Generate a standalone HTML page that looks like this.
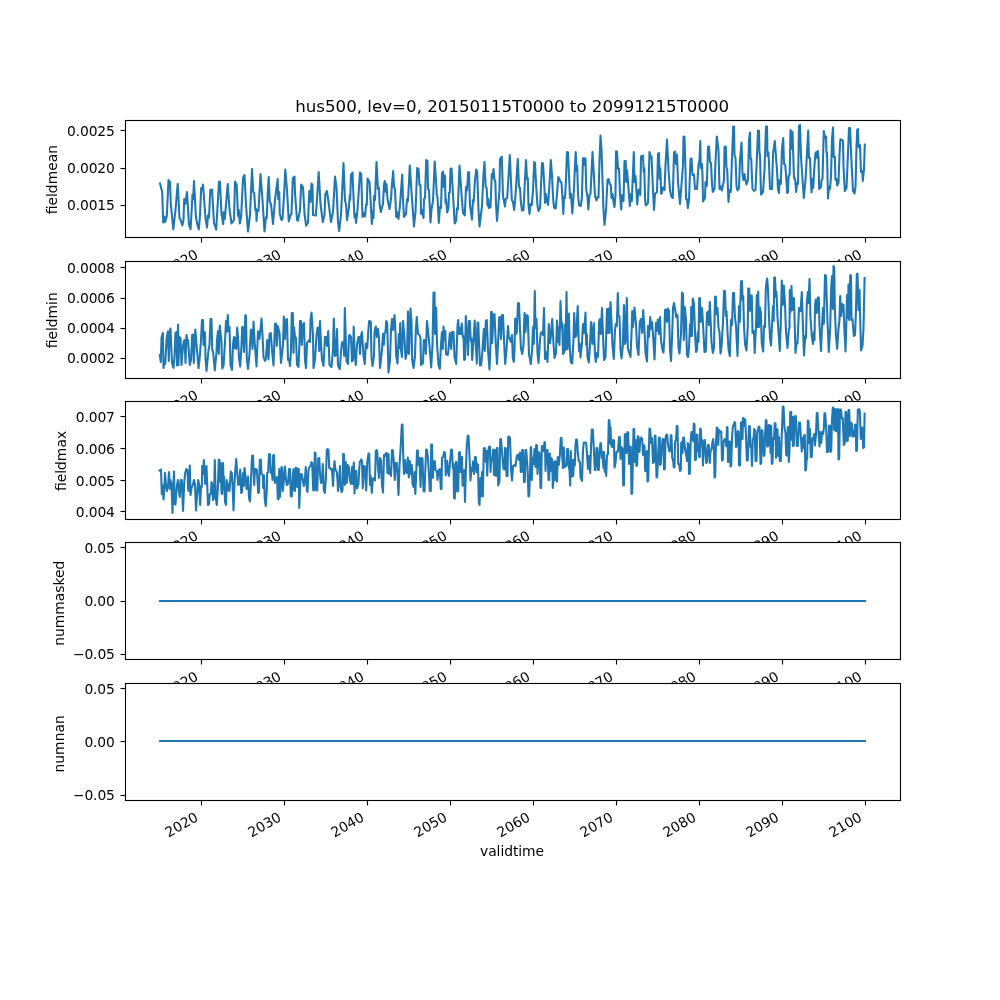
<!DOCTYPE html>
<html lang="en"><head><meta charset="utf-8"><title>hus500, lev=0</title>
<style>
html,body{margin:0;padding:0;background:#fff;width:1000px;height:1000px;overflow:hidden}
svg{display:block}
text{font-family:"DejaVu Sans","Liberation Sans",sans-serif;fill:#000}
.t{font-size:13.889px}
.tt{font-size:16.667px}
.yl{letter-spacing:-0.12px}
.xl{letter-spacing:-0.08px}
</style></head><body>
<svg width="1000" height="1000" viewBox="0 0 1000 1000">
<rect x="0" y="0" width="1000" height="1000" fill="#ffffff"/>
<defs>
<clipPath id="c0"><rect x="125.0" y="120" width="775.0" height="117.24"/></clipPath>
<clipPath id="c1"><rect x="125.0" y="260.69" width="775.0" height="117.24"/></clipPath>
<clipPath id="c2"><rect x="125.0" y="401.38" width="775.0" height="117.24"/></clipPath>
<clipPath id="c3"><rect x="125.0" y="542.07" width="775.0" height="117.24"/></clipPath>
<clipPath id="c4"><rect x="125.0" y="682.76" width="775.0" height="117.24"/></clipPath>
</defs>
<g class="ax" id="ax1">
<rect x="125.0" y="120" width="775.0" height="117.24" fill="#ffffff"/>
<line x1="201.5" y1="237.5" x2="201.5" y2="242.5" stroke="#000" stroke-width="1.111"/>
<line x1="284.5" y1="237.5" x2="284.5" y2="242.5" stroke="#000" stroke-width="1.111"/>
<line x1="367.5" y1="237.5" x2="367.5" y2="242.5" stroke="#000" stroke-width="1.111"/>
<line x1="450.5" y1="237.5" x2="450.5" y2="242.5" stroke="#000" stroke-width="1.111"/>
<line x1="533.5" y1="237.5" x2="533.5" y2="242.5" stroke="#000" stroke-width="1.111"/>
<line x1="616.5" y1="237.5" x2="616.5" y2="242.5" stroke="#000" stroke-width="1.111"/>
<line x1="699.5" y1="237.5" x2="699.5" y2="242.5" stroke="#000" stroke-width="1.111"/>
<line x1="782.5" y1="237.5" x2="782.5" y2="242.5" stroke="#000" stroke-width="1.111"/>
<line x1="865.5" y1="237.5" x2="865.5" y2="242.5" stroke="#000" stroke-width="1.111"/>
<line x1="120.5" y1="130.5" x2="125.5" y2="130.5" stroke="#000" stroke-width="1.111"/>
<line x1="120.5" y1="168.5" x2="125.5" y2="168.5" stroke="#000" stroke-width="1.111"/>
<line x1="120.5" y1="205.5" x2="125.5" y2="205.5" stroke="#000" stroke-width="1.111"/>
<path clip-path="url(#c0)" d="M160 183.5 L162.2 192 L163.2 222.5 L164.3 216.5 L165.2 222 L166.8 216 L168.5 180 L170 182 L170.8 204 L173.3 229.3 L175.5 210 L177.7 183.7 L179.5 218 L181 221 L182.3 225.5 L183.5 220 L184.2 199 L185.3 204 L187 192 L189 225 L190.6 229.3 L192.5 194.5 L193.2 199 L194 181 L196 218 L197.5 225 L198.8 229.5 L200 215 L201.2 188 L202 190 L203 184.5 L205.5 218 L207 227.5 L208 215.5 L209 217.5 L210.3 190 L212 189.5 L214 223 L216.2 229.7 L219 181.5 L220 182 L220.7 198 L221.5 214 L223.2 224 L223.7 212 L224.8 219 L227.7 184 L229.5 209 L231.5 223.5 L234 220 L235 181.5 L236.7 185 L238 216 L238.8 210 L239.8 223.5 L241.2 216 L243 178 L244.5 175 L246 205 L248 231.5 L250 215 L252 169 L253.2 192 L254.2 193 L255.3 210 L256.2 209 L256.5 221 L257.2 210 L258.5 211 L260.5 174 L262.5 200 L264.5 231.5 L266 217 L266.8 218 L267.5 198 L268.7 177 L269.8 202 L271 204 L273 224 L275 200 L276.5 188 L277.7 179 L278.2 199 L279.2 192 L279.8 214 L281.5 220 L282.5 219 L284 196 L285.3 169.5 L287 190 L288.8 221.5 L290.5 215 L291.5 214 L292.8 178.5 L294.5 176.5 L295 193 L297 220 L298 220.8 L300 210 L301.2 184.5 L303 187 L304.5 214 L306.2 225.8 L308 222.5 L309.3 191 L310.5 202 L311.5 183.5 L312.5 185 L313 215 L315.8 215.5 L316.8 202 L318.7 172 L320.5 204 L322.8 222 L324.5 215 L325.3 194.5 L326.8 191 L328 198 L331 222 L333 212 L335 176.5 L336.5 188 L338 222 L339.2 231 L341 215 L343.5 163 L345 201 L346 204 L347 220 L349 207 L349.8 195 L350.2 200 L351 175 L352.5 172.5 L353.5 197 L354.5 217.5 L355.5 214 L356 223 L357.5 210 L360 172.5 L361.2 174 L362.5 217 L364 213 L365 216.5 L366.2 204 L366.8 205 L367.5 178.5 L369.5 182 L370.5 199 L371.8 224 L372.8 211 L373.5 218 L374 196 L375 200 L376.5 162 L378 189 L379 188 L379.5 203 L380.8 212 L383 204 L384 184 L384.8 181 L385.8 192 L386.5 184 L387.5 199 L389.5 209 L391 199 L392 184 L393.2 171 L394 187 L395 189 L396.2 217 L397 212 L398.5 219 L400 205 L402.2 174.5 L403 200 L404 217 L406 214 L407 199 L408 201 L409.8 165.5 L412 199 L414 226.5 L415.5 212 L417.2 168 L418.5 169 L419.5 185 L420.5 185 L421 214 L422 210 L423.5 218 L424 199 L425 198 L426.2 160 L427.5 161 L428 189 L429 190 L430.5 222.5 L431.5 209 L433 201 L434.7 161.5 L436 180 L436.8 195 L437.5 197 L438.8 223 L440 207 L441 208 L442 173 L443 171.5 L443.5 187 L444 175 L445 176 L445.5 203 L446 199 L447.2 212.5 L448.5 208 L449 193 L449.8 192.5 L450.5 169 L451.5 168.5 L453.5 203 L454.7 223.5 L456.2 220.5 L457 208 L457.8 209.5 L459.5 165.5 L461.5 194 L463 213 L464.8 215.5 L466 187 L467 190.5 L468.2 172 L469 172.5 L470 205 L472 219.5 L473 200 L473.7 202 L475 180 L476.2 169.5 L477.2 172 L478.5 210 L479.5 226.5 L482 206 L483.5 174 L484.5 162 L485.7 187 L486.7 188 L487.5 205.5 L488.2 199 L488.8 208 L490.5 207 L491.8 174 L492.5 178 L493.5 169 L494.5 180 L495.3 181 L496 204 L497 221 L499.5 190 L500 159 L501.8 156.5 L503 196 L505 206.5 L505.8 199 L507.2 198 L509.8 155 L511.8 200 L513 202 L514.2 210 L515.5 195 L517.8 159 L519 187 L520 188 L520.8 201 L522 210.5 L523.5 210 L524.5 189 L526 160 L527 179 L527.8 178 L528.5 205 L529.5 214 L530.5 204 L531.8 205 L533 190 L534.2 162 L535 163 L536 183 L537.5 206 L538.5 211 L540 208 L541.2 181 L542 163 L543 163.5 L544.5 189 L545 203 L546 194 L546.8 202 L547.5 198 L548 205 L549.5 184 L550.8 160 L552 175 L553 197 L554 207.5 L555.7 208.5 L557 194 L558.3 177 L559.5 179 L560.5 182 L561.5 182.5 L562.5 198 L563.3 214 L564 197 L565 198 L566 179 L567 152 L568 152.5 L569 175 L570 198 L571 194 L572.3 213.5 L574 189 L574.8 169 L575.7 152 L576.5 171 L577.2 166 L578 194 L579 205 L580.7 206 L581.8 199 L583 158.5 L584 158 L584.7 165 L585.5 158.5 L586.2 189 L587.5 197 L588.3 209.5 L589.5 195 L590.5 194 L592.5 152 L594 177 L595 196 L596.5 200.5 L597.5 197 L598.5 197.5 L599.5 160 L600.5 135.5 L601.5 149 L603 195 L603.3 207 L604.5 225 L606 210 L607.5 180 L608.5 179 L610 184.5 L610.8 185 L611.5 198 L612.5 194 L613.5 202 L614.5 207 L615.5 195 L616 151.5 L617 151.5 L618 169 L619 168.5 L620 194 L621.2 209.5 L622 195 L623.5 201 L624.5 161 L625.7 161 L626.2 182 L627 170 L628 182 L629.8 206 L631 194 L631.8 201 L633.8 152 L634.5 182 L635.5 176 L636.5 192 L637.2 204.5 L638.5 190 L640 189 L640.3 195 L641 156.5 L643 155.5 L643.7 172 L644.3 168 L645 198 L645.7 205.5 L648 203 L649.5 152 L650.5 156 L651.5 156.5 L653 190 L654 210 L655 194 L657 192 L658 154 L659 153 L659.7 179 L660.3 168 L661.2 194 L661.8 193 L663 187.5 L664.5 190 L665.5 165 L667 139.5 L668.5 170 L670 190 L671.5 197 L672.8 198 L674 152.5 L675 151.5 L676 164 L677 154.5 L678 182 L680 204 L683 165 L683.5 136.5 L684.5 137 L685.5 170 L686 199 L687 199 L687.8 208 L689 200 L690.5 159 L691.5 158.5 L692.5 175 L694 174.5 L695 189 L697 189 L698.5 165 L699.5 160 L700.3 141 L700.8 168 L702 164 L702.5 176 L703 201.5 L705 198 L705.5 182 L706.8 186 L708 147 L709 146.5 L710 162 L711 163 L712 184 L712.8 192 L714.5 189 L715.5 162 L716.8 136.5 L718.5 150 L719.5 189 L720.5 186 L721.8 190.5 L724 180 L724.5 147 L725.8 146.5 L726.5 168 L727.2 169 L728 190 L728.5 202 L729.5 190 L730.8 192 L732 158 L733.2 126.5 L734 126.5 L734.5 155 L735.5 158 L736.5 186 L737.5 190.5 L739 188 L740 160 L741.5 142.5 L742.5 174 L743.5 180 L744.5 174 L745.5 180 L746.5 184.5 L748 180 L749 140 L750 132.5 L750.5 158.5 L751.2 158.5 L752.5 189 L754 191 L755.5 190 L756.8 160 L758 130.5 L759 131 L759.5 154 L760 154.5 L761 194.5 L763 192 L764.5 170 L766 126.5 L767 126.5 L767.5 156 L768.5 152.5 L770 189 L772 189 L773 154 L774.8 141 L777 170 L778 189 L779 193 L779.5 180 L780.8 184 L782 148 L783.2 138 L784 164 L785.2 164.5 L786.2 177 L787.2 193 L788 192 L788.5 177 L789.7 174 L790.5 130 L791.2 149 L791.8 131.5 L792.5 132 L794 178 L795 178.5 L796.2 192 L797 183 L798 184 L799 126 L800 125 L801 157 L802.5 179 L803.8 198 L805.5 180 L807 153 L808.2 130.5 L809 158 L810 158 L810.8 179 L811.5 192.5 L812.5 179 L813.2 188 L814.5 165 L815.5 153 L816.5 152 L817.2 158 L817.8 151 L818.5 158 L819.2 189 L821 187 L821.5 180 L822.5 179 L823.8 131 L825 138 L826 136.5 L826.5 153 L827 153 L828 198.5 L829 187 L830 189 L831 177 L832 139 L833 127.5 L833.7 157 L834.8 156.5 L835.5 180 L836.5 179 L837.2 185.5 L838.5 183 L839.5 155 L840.3 139.5 L841.5 139.5 L843 141 L843.5 167 L844.8 191 L846.5 188 L848 153 L849 128 L850 128 L851.5 162 L853 191 L854.5 193.5 L855.5 187 L856.5 147 L857.2 130 L858 129 L858.5 147 L860 145 L861 172 L862.2 171 L862.8 181 L864 169 L864.8 144.5" fill="none" stroke="#1f77b4" stroke-width="2.083" stroke-linejoin="round" stroke-linecap="square"/>
<rect x="125.5" y="120.5" width="775.0" height="117.0" fill="none" stroke="#000" stroke-width="1.111" stroke-linejoin="miter"/>
<g class="txt" style="opacity:.999">
<text class="t" transform="translate(168.62 274.88) rotate(-30)">2020</text>
<text class="t" transform="translate(251.6 274.88) rotate(-30)">2030</text>
<text class="t" transform="translate(334.56 274.88) rotate(-30)">2040</text>
<text class="t" transform="translate(417.54 274.88) rotate(-30)">2050</text>
<text class="t" transform="translate(500.5 274.88) rotate(-30)">2060</text>
<text class="t" transform="translate(583.49 274.88) rotate(-30)">2070</text>
<text class="t" transform="translate(666.45 274.88) rotate(-30)">2080</text>
<text class="t" transform="translate(749.43 274.88) rotate(-30)">2090</text>
<text class="t" transform="translate(832.39 274.88) rotate(-30)">2100</text>
<text class="t yl" text-anchor="end" x="114.8" y="136.17">0.0025</text>
<text class="t yl" text-anchor="end" x="114.8" y="173.27">0.0020</text>
<text class="t yl" text-anchor="end" x="114.8" y="210.27">0.0015</text>
<text class="t" text-anchor="middle" transform="translate(57.24 179.62) rotate(-90)">fieldmean</text>
<text class="tt" text-anchor="middle" x="512.2" y="111.67">hus500, lev=0, 20150115T0000 to 20991215T0000</text>
</g>
</g>
<g class="ax" id="ax2">
<rect x="125.0" y="260.69" width="775.0" height="117.24" fill="#ffffff"/>
<line x1="201.5" y1="378.5" x2="201.5" y2="383.5" stroke="#000" stroke-width="1.111"/>
<line x1="284.5" y1="378.5" x2="284.5" y2="383.5" stroke="#000" stroke-width="1.111"/>
<line x1="367.5" y1="378.5" x2="367.5" y2="383.5" stroke="#000" stroke-width="1.111"/>
<line x1="450.5" y1="378.5" x2="450.5" y2="383.5" stroke="#000" stroke-width="1.111"/>
<line x1="533.5" y1="378.5" x2="533.5" y2="383.5" stroke="#000" stroke-width="1.111"/>
<line x1="616.5" y1="378.5" x2="616.5" y2="383.5" stroke="#000" stroke-width="1.111"/>
<line x1="699.5" y1="378.5" x2="699.5" y2="383.5" stroke="#000" stroke-width="1.111"/>
<line x1="782.5" y1="378.5" x2="782.5" y2="383.5" stroke="#000" stroke-width="1.111"/>
<line x1="865.5" y1="378.5" x2="865.5" y2="383.5" stroke="#000" stroke-width="1.111"/>
<line x1="120.5" y1="267.5" x2="125.5" y2="267.5" stroke="#000" stroke-width="1.111"/>
<line x1="120.5" y1="298.5" x2="125.5" y2="298.5" stroke="#000" stroke-width="1.111"/>
<line x1="120.5" y1="328.5" x2="125.5" y2="328.5" stroke="#000" stroke-width="1.111"/>
<line x1="120.5" y1="358.5" x2="125.5" y2="358.5" stroke="#000" stroke-width="1.111"/>
<path clip-path="url(#c1)" d="M159.8 355 L160.8 362 L161.5 338 L162.8 333 L163.5 368 L164.5 360 L165.2 364 L166.5 340 L167.8 331.5 L168.8 361 L169.5 332 L170.5 328.5 L172 363 L173.5 368 L174.5 356 L175.5 333 L176.5 332 L177 365.5 L178 324.5 L178.5 365 L179.3 337 L180.5 338 L181.5 365 L183 346 L184 341 L184.5 340 L185.5 363 L186.5 335 L187.2 340 L188 340 L189.8 365 L191 360 L192.2 335 L193 334.5 L193.8 363 L195.3 329.5 L197 350 L198.5 368 L199.5 360 L201 340 L202 320 L203 320 L203.5 345 L204.2 332 L205 332.5 L205.5 358 L206.5 371 L208.5 350 L209.5 345 L210.5 319 L211.5 319 L212.2 350 L213 351 L214.8 370.5 L216.5 352 L217 340 L218 331 L218.8 354 L219.8 325.5 L221.5 342 L222.2 368.5 L223.5 366 L225 342 L226 321 L226.8 332 L227.8 315 L228.5 331 L229.5 327 L230.5 365 L232 370 L233 345 L234 337 L234.5 348 L235.3 338 L236.2 349 L237.2 327.5 L238.2 340 L239 358 L240.2 366.5 L241.5 345 L242.2 327 L243 327.5 L244 352 L245.3 315 L246 316 L246.8 358 L248 369 L249.5 354 L250.8 330 L251.5 329.5 L252.5 349 L253.5 321.5 L254.5 340 L256.5 366.5 L258 331.5 L259 331.5 L259.5 339 L261.5 318.5 L262.5 335 L263.5 357 L265 361 L266 358 L267.2 340 L268.5 359.5 L269.5 334 L270.8 333 L272 350 L273.5 365.5 L275 324 L276 323.5 L276.8 346 L277.8 326 L279.5 333 L281 363 L283 345 L283.8 316.5 L285 339 L285.8 320 L287 319 L288 360 L289 359 L290 366 L291 350 L291.8 313 L292.8 313 L293.5 353 L294 327 L295 337 L296 338 L297 365 L298.5 367 L299.5 342 L300 321 L301 321 L301.8 345 L302.8 325 L304 323 L305 360 L306 368 L307 343 L309 340 L310 342 L310.5 320 L311.5 312.5 L313 336 L313.5 368 L315 359 L316.5 336 L317.5 328 L318.5 327.5 L319.2 351 L320 321 L321 344 L322 360 L323.5 366 L325 337 L326.2 337 L327 346 L328.2 331 L329.5 365 L331.5 367 L333 350 L333.8 318.5 L335 356 L336 355 L337 329 L338 365.5 L339.8 369 L341 352 L342 342.5 L343.5 342 L344.2 356 L344.8 308 L345.8 339 L346.5 361 L348 364 L349 336 L349.8 335 L351 337 L352 361.5 L353 360 L353.7 326.5 L354.5 350 L355.8 365 L357 344 L358.5 337 L359.2 337 L360 354 L361 336 L362 332 L363.5 356 L364.8 364 L365.8 343.5 L367.2 348 L368.5 328 L369.2 321 L370.8 322 L371.5 357 L372.5 366 L374 356 L374.5 332 L375.8 326.5 L376.8 337 L378 329 L379 339 L380 368 L382 350 L383 334 L383.8 345 L384.5 333 L385.5 332 L386.2 321 L387.2 323 L388.5 372.5 L390 360 L391 330 L392 319 L393 330 L394.5 315 L395.5 332 L396.2 356 L397.5 363.5 L398.8 334 L399.5 348 L400.2 323 L401 350 L402 357 L403 321 L404.5 338 L405.5 359 L407 352 L408 311.5 L409 354 L410.5 308.5 L411.5 322 L412.2 360 L413.5 368 L415 356 L415.8 330 L416.8 317 L418 334 L419.5 335 L420.5 338 L421 365 L423 363 L423.8 340 L425 340 L425.8 354 L427 321 L429 340 L431.2 367.5 L432.5 345 L433.5 292.5 L434.5 292.5 L435 334 L435.5 307 L436.2 308 L437 344 L438.5 365 L439.8 369 L441 344 L442 332 L442.8 349 L443.5 326.5 L444.5 340 L445.3 331 L446 354 L447.8 355 L448.5 349 L449.8 333 L451.2 349 L452 332 L453.5 332 L454.5 357 L456.2 364 L457.5 326 L458.2 320 L459.2 334 L460 328 L461 334 L461.8 323.5 L462.8 337 L463.5 336 L464.2 360 L465 359 L465.8 316 L467 332 L468 355 L469 321 L469.8 321 L470.8 341 L471.5 339 L472.2 360 L473.5 340 L474.7 320.5 L475.5 338 L476.8 363.5 L477.5 322.5 L478.3 323 L479 342 L480 365.5 L481.2 365 L482.5 350 L483.8 329 L484.8 351 L485.8 321 L486.8 320 L488 350 L489.5 369.5 L490.5 344 L491 312 L491.8 312 L492.2 343 L493.5 315 L494.5 314 L495.8 344 L497 364 L498.2 340 L499.2 317.5 L500 317 L501 339 L502 315 L503 315 L504 340 L505.2 364 L506.5 350 L508 326 L508.8 337 L509.8 339 L510.8 342 L512 335 L512.8 358 L513.8 362 L514.5 350 L515.2 318.5 L516.2 334 L516.8 332 L518 303 L519 303.5 L520 329 L521 349 L522.2 354 L523.5 345 L524.5 313 L525.5 332 L526.5 315 L527.8 316 L529 354 L530.8 364 L532.2 349 L533 327 L533.8 344 L534.8 291 L535.5 328 L536.5 319 L537.5 353 L538.5 363 L540 340 L540.8 333 L542 332 L543 335 L544 308 L545 359 L546.2 352 L547.5 362 L548.8 324 L550 343 L550.8 337 L552.2 319 L553.5 344 L554.5 358 L556 353 L557 320.5 L558 342 L558.8 327 L559.5 345 L560.5 301 L561.5 328 L562.2 323 L563 354 L564.2 352 L564.8 325 L565.5 350 L566.5 292 L567.5 349 L568.8 313.5 L569.8 348 L570.8 362 L572.2 363.5 L573.5 339 L574.2 313 L575.2 337 L576.2 336 L577.7 306 L579 351 L579.8 344 L580.5 357.5 L581.8 345 L583 324 L584 333 L585.5 312.5 L586.2 345 L586.8 334 L587.5 357 L588.8 362.5 L590 345 L591 322 L592.5 344 L593.8 323 L595 355 L595.8 362 L596.8 353 L598 357 L599.2 321 L600 319 L600.8 334 L602 308 L603 335 L604 360 L605.5 357 L607 309 L607.8 333 L608.8 308.5 L609.5 333 L610.5 302 L611.5 322 L612.5 346 L613.8 359 L615 330 L615.8 324 L616.8 326 L617.8 293 L618.5 315 L619.5 317 L620.5 350 L621.5 358.5 L622.8 346 L624 305 L624.8 344 L625.5 342 L626.8 298 L627.8 348 L629 352 L630.5 357 L631.8 326 L632.2 311 L633 327 L634.5 307.5 L636 324 L637 346 L638.5 355 L639.8 322 L641 319 L642.2 333 L643.2 310 L644.5 330 L645.5 353 L647 361.5 L648 326 L649 337 L650.2 317 L651.2 329 L652 322 L653 334 L654.5 359.5 L656 323 L656.8 331 L657.8 319.5 L659 334 L660 317 L661 340 L662.5 350 L663.5 352.5 L664.5 334 L665 310 L666.2 309.5 L667 322 L667.8 308.5 L669 311 L670 350 L671 361 L672.2 334 L673 308 L674 303 L675.5 312 L676.2 317 L677.5 315 L678.5 348 L679.5 353.5 L681 334 L682 292.5 L683 294 L683.8 340 L684.8 307 L686 320 L687 355 L688 357 L689 348 L690 324 L690.8 336 L691.2 307 L692 336 L692.8 298.5 L694 304 L695 332 L696 352 L697 350 L697.8 332 L698.5 342 L699.2 298 L700 298.5 L700.5 322 L701.2 321 L702 308 L703 324 L704.5 352 L705.8 351.5 L707 313 L708 311.5 L709 325 L709.8 302 L710.8 325 L711.5 342 L712.8 353 L714 348 L715 297 L715.8 296.5 L716.5 314 L717.5 308 L718.5 328 L719.5 332 L720.5 353.5 L721.5 347 L723 322 L724 291 L725 291 L725.8 316 L726.5 311 L727.5 332 L728.5 349 L729.8 356 L731 320 L732 325 L733 293 L734 293 L735 318 L736 326 L737.5 356 L739 306 L739.8 322 L741 281.5 L742 281 L742.5 300 L743.2 296 L744 326 L745 344 L746.5 350.5 L747.8 326 L748.2 288.5 L749.2 288.5 L750 311 L750.8 295.5 L751.8 295.5 L752.5 333 L754 331 L754.7 353 L756 326 L756.8 295 L757.5 327 L758.2 291.5 L759 327 L759.8 307.5 L760.8 312 L761.8 344 L763.2 351.5 L764 326 L765 327 L765.8 289 L766.5 282 L767.2 278.5 L768 290 L769 317 L770 338 L771 345.5 L772 326 L773 306 L773.7 321 L774.2 277.5 L775 277.5 L775.8 297 L776.5 292 L777.5 317 L778.5 332 L779.8 351 L780.8 322 L781.8 280.5 L782.8 305 L783.8 285.5 L785 304 L786 332 L787.5 348 L788.8 330 L789.5 328 L789.8 290 L790.5 312 L791.5 286 L792.2 310 L793.2 298 L794 298.5 L795.5 353 L796.8 342 L797.5 343 L799 308 L800.5 311 L801.8 292 L802.8 322 L804 355.5 L805.2 336 L806 338 L806.8 303 L807.8 292 L808.5 303 L809.5 279 L810.5 318 L811.8 336 L813 344 L814 332 L814.5 340 L815 306 L815.8 299.5 L816.8 313 L817.8 297.5 L818.8 297.5 L819.5 326 L821 351 L822.2 322 L823 308 L823.8 324 L825 275 L826 276 L827.5 322 L828.8 352 L830.2 328 L831.2 287 L832 276 L832.8 309 L833.5 266 L834.2 267 L834.8 308 L836 336 L837.2 349 L838.5 328 L839.5 320 L840.2 296 L841.2 316 L842.2 304 L843.5 305 L844.5 332 L845.5 351.5 L846.5 318 L847 295 L847.8 318 L848.5 284.5 L849.2 320 L850.2 275 L851 276 L851.5 320 L852.5 319 L853.8 336 L855 335 L856 310 L856.8 274 L857.5 273.5 L858.5 310 L859.5 290 L860 311 L861 350.5 L862.5 346 L863.5 328 L864.6 278" fill="none" stroke="#1f77b4" stroke-width="2.083" stroke-linejoin="round" stroke-linecap="square"/>
<rect x="125.5" y="261.5" width="775.0" height="117.0" fill="none" stroke="#000" stroke-width="1.111" stroke-linejoin="miter"/>
<g class="txt" style="opacity:.999">
<text class="t" transform="translate(168.62 415.57) rotate(-30)">2020</text>
<text class="t" transform="translate(251.6 415.57) rotate(-30)">2030</text>
<text class="t" transform="translate(334.56 415.57) rotate(-30)">2040</text>
<text class="t" transform="translate(417.54 415.57) rotate(-30)">2050</text>
<text class="t" transform="translate(500.5 415.57) rotate(-30)">2060</text>
<text class="t" transform="translate(583.49 415.57) rotate(-30)">2070</text>
<text class="t" transform="translate(666.45 415.57) rotate(-30)">2080</text>
<text class="t" transform="translate(749.43 415.57) rotate(-30)">2090</text>
<text class="t" transform="translate(832.39 415.57) rotate(-30)">2100</text>
<text class="t yl" text-anchor="end" x="114.8" y="273.17">0.0008</text>
<text class="t yl" text-anchor="end" x="114.8" y="303.27">0.0006</text>
<text class="t yl" text-anchor="end" x="114.8" y="333.27">0.0004</text>
<text class="t yl" text-anchor="end" x="114.8" y="363.27">0.0002</text>
<text class="t" text-anchor="middle" transform="translate(57.24 320.31) rotate(-90)">fieldmin</text>
</g>
</g>
<g class="ax" id="ax3">
<rect x="125.0" y="401.38" width="775.0" height="117.24" fill="#ffffff"/>
<line x1="201.5" y1="519.5" x2="201.5" y2="524.5" stroke="#000" stroke-width="1.111"/>
<line x1="284.5" y1="519.5" x2="284.5" y2="524.5" stroke="#000" stroke-width="1.111"/>
<line x1="367.5" y1="519.5" x2="367.5" y2="524.5" stroke="#000" stroke-width="1.111"/>
<line x1="450.5" y1="519.5" x2="450.5" y2="524.5" stroke="#000" stroke-width="1.111"/>
<line x1="533.5" y1="519.5" x2="533.5" y2="524.5" stroke="#000" stroke-width="1.111"/>
<line x1="616.5" y1="519.5" x2="616.5" y2="524.5" stroke="#000" stroke-width="1.111"/>
<line x1="699.5" y1="519.5" x2="699.5" y2="524.5" stroke="#000" stroke-width="1.111"/>
<line x1="782.5" y1="519.5" x2="782.5" y2="524.5" stroke="#000" stroke-width="1.111"/>
<line x1="865.5" y1="519.5" x2="865.5" y2="524.5" stroke="#000" stroke-width="1.111"/>
<line x1="120.5" y1="416.5" x2="125.5" y2="416.5" stroke="#000" stroke-width="1.111"/>
<line x1="120.5" y1="448.5" x2="125.5" y2="448.5" stroke="#000" stroke-width="1.111"/>
<line x1="120.5" y1="480.5" x2="125.5" y2="480.5" stroke="#000" stroke-width="1.111"/>
<line x1="120.5" y1="511.5" x2="125.5" y2="511.5" stroke="#000" stroke-width="1.111"/>
<path clip-path="url(#c2)" d="M159.5 470.5 L161 469.5 L161.8 494 L162.5 485 L163.5 499.5 L164.2 492 L165 473 L166 485 L167 491 L168 486 L169 472 L170 489 L170.5 480 L171.5 484 L172.5 513 L173.2 490 L174 471.5 L174.7 504 L175.5 504.5 L176.5 490 L177.2 484 L178 480 L179 492 L179.8 497 L180.8 480 L181.8 480 L183 511 L184.2 484 L185 474 L186.2 469 L187.5 470 L188.2 490 L189 491 L189.8 465.5 L190.5 495 L191.5 488 L192.8 485 L194 480 L195 484 L196 510.5 L197 496 L198.2 480 L199 484 L200.2 505 L201 486 L201.8 487 L202.2 466 L203 474 L203.8 460 L204.5 469 L205.2 484 L205.8 483 L206.5 466 L207.2 484 L208 505 L209 504 L209.8 494 L210.8 494 L211.5 482 L212.2 484 L213 500 L214 498 L214.8 460 L215.8 498 L216.8 505 L217.8 490 L218.8 459.5 L219.5 460 L220 482 L220.8 463 L221.5 493 L222.2 494 L223 463 L223.8 489 L224.2 477 L225 502 L226 505 L226.8 480 L227.8 490 L228.5 484 L229.5 491 L230.8 471.5 L231.8 473 L232.5 484 L233.5 510.5 L234.5 484 L235.3 470 L236.2 459 L237 470 L238.2 485 L239.2 484 L240.2 469.5 L241.2 493 L242 492 L243 473 L243.8 486 L244.5 468 L245.5 476 L246.5 489 L247.2 488 L248 476.5 L249 498 L250 501.5 L251 480 L252 456 L253 455.5 L254.2 485 L255 469 L256.8 469.5 L257.5 480 L258.2 493 L259 492 L259.8 460 L260.8 459.5 L261.5 474 L262.8 475 L263.2 488 L264 475.5 L264.8 500 L265.8 506 L266.8 490 L267.2 473 L268.2 472 L269 454 L270 454.5 L270.8 473 L271.8 469 L272.5 480 L273.2 455.5 L274 455 L274.8 483 L276 479 L277 477 L277.8 499 L278.5 499.5 L279.2 469 L280 497 L280.8 484 L281.5 467 L282.2 467.5 L282.8 491 L284 479 L285 466.5 L285.8 478 L286.8 485 L288 484 L289 469 L290 469 L290.8 496 L291.8 496.5 L292.8 476 L293.5 469 L294.2 490 L295 491 L295.8 467.5 L296.5 468 L297.2 487 L298 469 L298.8 469 L299.2 508 L300 490 L300.8 474 L301.8 474.5 L302.8 480 L303.8 486 L304.8 480 L305.8 467 L306.8 490 L307.5 492 L308.5 470 L309.5 467 L310.5 466 L311.5 462 L312.2 463 L313.2 490 L314 490.5 L314.8 452.5 L315.5 453 L316.2 490 L317.2 490.5 L318.2 458.5 L319.2 458 L320.2 476 L321 483 L322 482 L322.8 464 L323.8 490 L324.8 493 L325.8 480 L326.8 450 L327.5 449 L328.5 450 L329.2 468 L330.5 468 L331.2 470 L332 469 L333 486 L333.8 470 L334.5 461 L335.5 470 L336.8 472 L337.5 480 L338 491 L339 480 L340 466 L340.5 485 L341.5 492 L342.5 490 L343.2 454 L344 454.5 L344.8 485 L345.8 462 L346.8 483 L347.8 465 L348.8 467 L350 481 L351 484 L352 467 L352.8 484 L353.8 462.5 L354.5 493.5 L355.5 471 L356.2 471 L357 488.5 L358.5 484 L359 473 L359.8 462 L361.2 459.5 L362 461 L362.8 488.5 L363.8 466 L364.8 466.5 L366.2 490.5 L367.2 463 L368.5 453.5 L369.2 453.5 L370 485 L370.8 476 L371.8 493 L372.8 479 L373.8 478 L375 480.5 L375.8 451 L376.5 450 L377.2 451 L378 468 L379 478 L380 458 L381 460 L382 485 L383 492.5 L384 455 L385 456 L386 453 L386.8 453.5 L387.5 473 L388.5 454 L389.2 474 L390 468 L391 476 L392 450 L392.8 450.5 L393.8 462 L394.8 480 L395.5 463 L396.8 463 L397.8 479 L398.5 495 L399.5 465 L400.8 445 L401.8 424.5 L402.5 424.5 L403.2 455 L404 474 L405 460 L406 472 L406.8 473 L407.8 457.5 L408.8 477.5 L409.8 461 L410.8 474 L411.8 465 L412.5 484 L413.5 487 L414.5 472 L415.3 494 L416.2 475 L417 450.5 L417.8 450.5 L418.5 465 L419.5 458 L420.5 487 L421.5 458 L422.5 458.5 L423.5 491 L424.5 491.5 L425.5 465 L426.2 449.5 L427 450 L428 459 L429 475 L429.8 491 L430.8 491 L431.2 444.5 L432 444.5 L432.8 478 L433.8 462 L434.8 461 L435.5 470 L436.8 471 L437.5 480 L438.5 471 L439.8 469 L440.8 489 L441.5 489 L442 458 L443 457 L444.2 452 L445 453 L445.8 475.5 L446.5 461 L447.2 461 L448 472 L449 476 L450 462 L451.2 449.5 L452 450 L452.8 468 L453.5 464 L454 498 L454.8 498.5 L455.8 462 L456.5 462 L457.2 491.5 L458.2 491 L459 453 L459.8 452 L460.5 472 L461.2 457 L462 457 L462.5 485.5 L463.5 485.5 L464.2 470 L465 502 L465.8 472 L466.8 445 L467.8 435.5 L468.5 436 L469.5 457 L470.5 480.5 L471.5 468 L472.2 471 L473 461.5 L474 474 L475 457 L475.8 457 L476.5 472 L477.2 464 L478 465 L478.8 502 L479.5 505 L480.5 478 L481.2 496 L482 472 L482.8 496.5 L483.8 448.5 L484.8 448 L485.8 462 L486.5 451 L487.2 475.5 L488.2 451 L489.2 446.5 L490 447 L490.5 472 L491.2 459 L492.2 460 L493.2 449.5 L494 475 L494.8 450 L495.5 475.5 L496.2 476 L496.8 448 L497.5 448 L498.2 485.5 L499.5 481 L500.2 439.5 L501 439 L502 452 L503.5 469 L504.5 469.5 L505 448 L505.8 448.5 L506.5 476 L507.5 476 L508.2 437 L509 436.5 L510 438 L511 468 L512 480.5 L513 466 L514.5 465 L515.5 466 L516.8 456 L517.8 454.5 L519 460 L520 452.5 L520.8 472 L521.5 472 L522.2 450 L523 450 L524 482 L524.8 482 L525.5 450 L526.2 450 L527.5 468 L528.5 496.5 L529.2 496 L530 472 L530.8 447 L531.2 447.5 L531.8 480 L532.5 458 L533.5 464 L534.5 449 L535.5 467 L536.2 445 L537 445.5 L537.5 474 L538.5 452 L539.5 453 L540.5 488 L541.2 488 L541.8 446 L542.8 446 L543.5 451 L544.5 442 L545 442.5 L545.5 471 L546.5 450 L547.5 450 L548.5 480 L549.2 480 L549.8 453.5 L550.5 471 L551.5 458 L552.2 460 L552.8 488 L553.5 480 L554.2 462 L554.8 480 L555.5 461 L556.2 476 L557 481.5 L557.8 457 L558.8 465 L559.8 456 L560.8 438 L561.5 438 L562.2 456 L563 468 L563.8 447.5 L564.5 467 L565.5 466 L566.5 465.5 L567.2 449 L568 449 L568.8 467 L569.5 470 L570.2 485.5 L570.8 451 L571.5 477 L572.5 460 L573.2 476 L574 460 L574.8 465.5 L575.5 445 L576.2 439.5 L577 440 L577.8 453 L578.8 461 L580 462 L580.5 477 L582 481 L583 450 L583.8 442.5 L585 442.5 L586.2 443 L587 454 L588 469 L588.8 456 L589.5 456 L590.2 473 L591 448 L591.8 429.5 L592.8 429.5 L593.8 448 L594.8 470 L595.5 470 L596.5 448 L597.2 448 L598 470 L598.8 470 L599.5 452 L600.5 443 L601 443.5 L601.8 458 L602.5 452 L603.5 468 L604 452 L604.8 472 L605.5 461 L606.2 476 L607 455 L608 454 L608.8 420 L609.5 420.5 L610 443 L610.5 427 L611.2 445 L612.2 447 L613.2 440 L614 440.5 L614.5 467.5 L615.5 463 L616.5 452 L618 451.5 L619 437 L619.8 437 L620.5 459 L621.5 447 L622.5 449 L623.2 485.5 L624 485 L624.8 434.5 L625.8 434 L626.5 453 L627.5 432 L628.2 432.5 L629 464 L630 446.5 L630.8 447 L631.5 494 L632.2 493.5 L633.5 429 L634.2 429 L634.8 462 L635.8 440 L636.5 466 L637.2 465 L637.8 436 L638.5 437 L639.5 452 L640.2 440 L641.2 437.5 L642.2 439 L643 455 L643.8 445 L644.5 446 L645.2 471 L646 471 L646.8 451 L647.5 481.5 L648.2 481 L649 445 L649.5 428.5 L650.2 429 L651 443 L652 438 L653 463 L654 462 L654.8 435.5 L655.5 436 L656.5 477.5 L657.2 477 L658.2 452 L659 437.5 L659.8 438 L660 465 L660.8 464 L661.5 453 L662.5 439 L663.5 439.5 L664 469.5 L664.8 469 L665.5 438 L666.5 434.5 L667.2 435 L668 445 L669.5 451.5 L670.2 451 L670.8 435 L671.5 435.5 L672.2 458 L673 459.5 L673.8 467.5 L674.5 467 L675 442 L676 440 L676.8 426 L677.5 426 L678.2 464 L679.2 464 L680 471 L680.8 470 L681.2 443 L682 442 L682.5 453 L683.2 437.5 L684 437.5 L685 449 L686.2 455 L687 461 L687.8 443 L688.5 444 L689 474 L689.8 473.5 L690.8 438 L691.5 432 L692.2 432 L693 441 L693.8 423.5 L694.5 424 L695 460 L696 459.5 L696.8 434.5 L697.5 435 L698 451 L698.8 445 L699.2 457 L699.8 457 L700.2 428.5 L700.8 429 L701.5 446 L702.2 440 L703 465.5 L703.8 442 L704.8 440 L705.5 452 L706.2 463 L707 462 L707.8 445 L708.8 445 L709.8 463 L710.5 451 L711.5 450 L712.5 442 L713.2 439 L714 449 L714.5 477.5 L715.2 477 L716 442 L716.8 427.5 L717.5 428 L718.2 445 L719 430 L720 432 L721.2 431.5 L722 460.5 L722.8 460 L723.5 442 L724.5 439 L725.5 440 L726.2 446 L727 427 L727.5 427.5 L728 462 L728.8 461 L729.5 441.5 L730 442 L730.5 466.5 L731.2 466 L732 437 L733 425.5 L733.8 426 L734.5 422 L735.2 422.5 L736 447 L737 445 L737.8 431 L738.5 431.5 L739 465.5 L740 465.5 L741 422.5 L742 422 L742.5 439 L743 418 L743.8 418.5 L744.5 426 L745.2 419.5 L746 436 L746.8 460.5 L747.8 460 L749 426 L749.8 426.5 L750.5 447 L751.2 446 L752 466 L752.8 439 L753.5 439 L754.2 429 L754.8 430 L755.5 461 L756.5 461 L757.2 432 L758 430 L758.8 426.5 L759.5 427 L760.5 464 L761.2 463.5 L761.8 430 L762.5 431 L763 444 L763.8 456 L764.5 455 L765 437 L765.8 420 L766.5 420.5 L767.2 446.5 L768.2 446 L768.8 425 L770 425.5 L770.5 453 L771.2 426 L771.8 464 L772.5 463 L773.2 438 L774 439 L774.8 423 L775.5 423.5 L776 458 L776.8 429 L777.5 429.5 L778.2 456 L779 437 L779.8 461 L780.8 461 L781.5 442 L782.2 424 L782.8 406.5 L783.5 406.5 L784.5 428 L785.5 433 L786.2 455 L787 455.5 L787.8 427 L788.2 427.5 L788.8 462 L789.5 451 L790.2 412 L791.2 412 L791.8 440 L792.5 417 L793 446 L793.8 445.5 L794.5 416.5 L795.8 416 L796.8 446 L797.8 446 L799 422.5 L800 422.5 L801 439 L801.8 451.5 L802.5 438 L803.5 448 L804.2 435 L804.8 435 L805.3 470.5 L806 470 L806.8 455 L807.2 459 L807.8 420.5 L808.5 421 L809.2 443 L810 429 L810.8 457 L811.8 457 L812.5 438 L813.5 440 L814.2 434 L815 445.5 L816 434 L816.8 413 L817.5 413 L818.5 433 L819.5 446.5 L820.2 432 L821.2 443 L822.2 432 L823 434 L823.8 429 L824.5 413 L825.2 413.5 L826.2 429 L827 452 L828.2 451.5 L829 425.5 L830 426 L830.5 452 L831.2 451 L832 420 L832.8 407.5 L833.5 408 L834.2 430 L835 409 L835.8 431 L836.5 431.5 L837.2 409 L838 409.5 L838.5 459.5 L839.2 459 L840 409.5 L841 409.5 L841.8 418.5 L842.8 418 L843.8 445 L844.8 443 L845.5 412 L846.2 412 L847 441 L847.8 440.5 L848.5 410 L849.2 410 L850 436 L850.8 422.5 L851.8 423.5 L852.5 436.5 L853.8 436.5 L855 425 L855.8 424.5 L856.2 451 L857 450 L857.8 410 L859 409 L859.8 411 L860.8 439 L861.5 427.5 L862.5 428 L863.2 448 L864 447 L864.6 413.5" fill="none" stroke="#1f77b4" stroke-width="2.083" stroke-linejoin="round" stroke-linecap="square"/>
<rect x="125.5" y="401.5" width="775.0" height="118.0" fill="none" stroke="#000" stroke-width="1.111" stroke-linejoin="miter"/>
<g class="txt" style="opacity:.999">
<text class="t" transform="translate(168.62 556.26) rotate(-30)">2020</text>
<text class="t" transform="translate(251.6 556.26) rotate(-30)">2030</text>
<text class="t" transform="translate(334.56 556.26) rotate(-30)">2040</text>
<text class="t" transform="translate(417.54 556.26) rotate(-30)">2050</text>
<text class="t" transform="translate(500.5 556.26) rotate(-30)">2060</text>
<text class="t" transform="translate(583.49 556.26) rotate(-30)">2070</text>
<text class="t" transform="translate(666.45 556.26) rotate(-30)">2080</text>
<text class="t" transform="translate(749.43 556.26) rotate(-30)">2090</text>
<text class="t" transform="translate(832.39 556.26) rotate(-30)">2100</text>
<text class="t yl" text-anchor="end" x="114.8" y="422.17">0.007</text>
<text class="t yl" text-anchor="end" x="114.8" y="454.17">0.006</text>
<text class="t yl" text-anchor="end" x="114.8" y="485.87">0.005</text>
<text class="t yl" text-anchor="end" x="114.8" y="517.17">0.004</text>
<text class="t" text-anchor="middle" transform="translate(66.07 461) rotate(-90)">fieldmax</text>
</g>
</g>
<g class="ax" id="ax4">
<rect x="125.0" y="542.07" width="775.0" height="117.24" fill="#ffffff"/>
<line x1="201.5" y1="659.5" x2="201.5" y2="664.5" stroke="#000" stroke-width="1.111"/>
<line x1="284.5" y1="659.5" x2="284.5" y2="664.5" stroke="#000" stroke-width="1.111"/>
<line x1="367.5" y1="659.5" x2="367.5" y2="664.5" stroke="#000" stroke-width="1.111"/>
<line x1="450.5" y1="659.5" x2="450.5" y2="664.5" stroke="#000" stroke-width="1.111"/>
<line x1="533.5" y1="659.5" x2="533.5" y2="664.5" stroke="#000" stroke-width="1.111"/>
<line x1="616.5" y1="659.5" x2="616.5" y2="664.5" stroke="#000" stroke-width="1.111"/>
<line x1="699.5" y1="659.5" x2="699.5" y2="664.5" stroke="#000" stroke-width="1.111"/>
<line x1="782.5" y1="659.5" x2="782.5" y2="664.5" stroke="#000" stroke-width="1.111"/>
<line x1="865.5" y1="659.5" x2="865.5" y2="664.5" stroke="#000" stroke-width="1.111"/>
<line x1="120.5" y1="547.5" x2="125.5" y2="547.5" stroke="#000" stroke-width="1.111"/>
<line x1="120.5" y1="601.5" x2="125.5" y2="601.5" stroke="#000" stroke-width="1.111"/>
<line x1="120.5" y1="654.5" x2="125.5" y2="654.5" stroke="#000" stroke-width="1.111"/>
<line x1="160" y1="601" x2="865" y2="601" stroke="#1f77b4" stroke-width="2.083" stroke-linecap="square"/>
<rect x="125.5" y="542.5" width="775.0" height="117.0" fill="none" stroke="#000" stroke-width="1.111" stroke-linejoin="miter"/>
<g class="txt" style="opacity:.999">
<text class="t" transform="translate(168.62 696.95) rotate(-30)">2020</text>
<text class="t" transform="translate(251.6 696.95) rotate(-30)">2030</text>
<text class="t" transform="translate(334.56 696.95) rotate(-30)">2040</text>
<text class="t" transform="translate(417.54 696.95) rotate(-30)">2050</text>
<text class="t" transform="translate(500.5 696.95) rotate(-30)">2060</text>
<text class="t" transform="translate(583.49 696.95) rotate(-30)">2070</text>
<text class="t" transform="translate(666.45 696.95) rotate(-30)">2080</text>
<text class="t" transform="translate(749.43 696.95) rotate(-30)">2090</text>
<text class="t" transform="translate(832.39 696.95) rotate(-30)">2100</text>
<text class="t yl" text-anchor="end" x="114.8" y="553.27">0.05</text>
<text class="t yl" text-anchor="end" x="114.8" y="606.27">0.00</text>
<text class="t yl" text-anchor="end" x="114.8" y="659.27">−0.05</text>
<text class="t" text-anchor="middle" transform="translate(64.07 603.19) rotate(-90)">nummasked</text>
</g>
</g>
<g class="ax" id="ax5">
<rect x="125.0" y="682.76" width="775.0" height="117.24" fill="#ffffff"/>
<line x1="201.5" y1="800.5" x2="201.5" y2="805.5" stroke="#000" stroke-width="1.111"/>
<line x1="284.5" y1="800.5" x2="284.5" y2="805.5" stroke="#000" stroke-width="1.111"/>
<line x1="367.5" y1="800.5" x2="367.5" y2="805.5" stroke="#000" stroke-width="1.111"/>
<line x1="450.5" y1="800.5" x2="450.5" y2="805.5" stroke="#000" stroke-width="1.111"/>
<line x1="533.5" y1="800.5" x2="533.5" y2="805.5" stroke="#000" stroke-width="1.111"/>
<line x1="616.5" y1="800.5" x2="616.5" y2="805.5" stroke="#000" stroke-width="1.111"/>
<line x1="699.5" y1="800.5" x2="699.5" y2="805.5" stroke="#000" stroke-width="1.111"/>
<line x1="782.5" y1="800.5" x2="782.5" y2="805.5" stroke="#000" stroke-width="1.111"/>
<line x1="865.5" y1="800.5" x2="865.5" y2="805.5" stroke="#000" stroke-width="1.111"/>
<line x1="120.5" y1="688.5" x2="125.5" y2="688.5" stroke="#000" stroke-width="1.111"/>
<line x1="120.5" y1="741.5" x2="125.5" y2="741.5" stroke="#000" stroke-width="1.111"/>
<line x1="120.5" y1="795.5" x2="125.5" y2="795.5" stroke="#000" stroke-width="1.111"/>
<line x1="160" y1="741" x2="865" y2="741" stroke="#1f77b4" stroke-width="2.083" stroke-linecap="square"/>
<rect x="125.5" y="683.5" width="775.0" height="117.0" fill="none" stroke="#000" stroke-width="1.111" stroke-linejoin="miter"/>
<g class="txt" style="opacity:.999">
<text class="t" transform="translate(168.62 837.64) rotate(-30)">2020</text>
<text class="t" transform="translate(251.6 837.64) rotate(-30)">2030</text>
<text class="t" transform="translate(334.56 837.64) rotate(-30)">2040</text>
<text class="t" transform="translate(417.54 837.64) rotate(-30)">2050</text>
<text class="t" transform="translate(500.5 837.64) rotate(-30)">2060</text>
<text class="t" transform="translate(583.49 837.64) rotate(-30)">2070</text>
<text class="t" transform="translate(666.45 837.64) rotate(-30)">2080</text>
<text class="t" transform="translate(749.43 837.64) rotate(-30)">2090</text>
<text class="t" transform="translate(832.39 837.64) rotate(-30)">2100</text>
<text class="t yl" text-anchor="end" x="114.8" y="694.27">0.05</text>
<text class="t yl" text-anchor="end" x="114.8" y="747.27">0.00</text>
<text class="t yl" text-anchor="end" x="114.8" y="800.27">−0.05</text>
<text class="t" text-anchor="middle" transform="translate(64.07 743.88) rotate(-90)">numnan</text>
<text class="t xl" text-anchor="middle" x="512.0" y="856.15">validtime</text>
</g>
</g>
</svg>
</body></html>
